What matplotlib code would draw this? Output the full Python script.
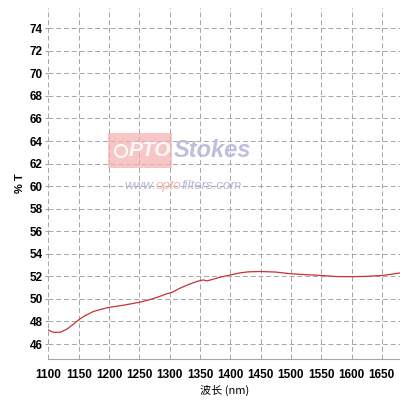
import matplotlib
matplotlib.use('Agg')
import matplotlib.pyplot as plt
from matplotlib.patches import Rectangle, Circle

# Transmission curve
wavelength = [1100, 1105, 1110, 1120, 1130, 1140, 1150, 1160, 1175, 1190, 1200, 1225,
              1250, 1265, 1280, 1295, 1305, 1315, 1330, 1345, 1355, 1362, 1370, 1385,
              1400, 1415, 1430, 1450, 1475, 1500, 1525, 1550, 1575, 1600, 1625, 1650,
              1665, 1680]
transmission = [47.25, 47.1, 47.03, 47.05, 47.3, 47.7, 48.15, 48.5, 48.9, 49.12, 49.25, 49.45,
                49.7, 49.9, 50.15, 50.45, 50.6, 50.9, 51.25, 51.55, 51.68, 51.6, 51.72, 51.95,
                52.12, 52.3, 52.4, 52.43, 52.38, 52.23, 52.15, 52.08, 51.98, 51.97, 52.0, 52.08,
                52.18, 52.3]

x_ticks = [1100, 1150, 1200, 1250, 1300, 1350, 1400, 1450, 1500, 1550, 1600, 1650]
y_ticks = [46, 48, 50, 52, 54, 56, 58, 60, 62, 64, 66, 68, 70, 72, 74]

tick_font = ['Liberation Sans Narrow', 'Liberation Sans', 'DejaVu Sans']

fig = plt.figure(figsize=(4, 4), dpi=100)
ax = fig.add_axes([0.121, 0.1025, 0.879, 0.8775])

ax.plot(wavelength, transmission, color='#c83232', linewidth=0.9)

ax.set_xlim(1100, 1680)
ax.set_ylim(44.67, 75.8)
ax.set_xticks(x_ticks)
ax.set_yticks(y_ticks)
ax.grid(True, color='#a6a6a6', linestyle=(0, (5, 3)), linewidth=0.7)

for side in ['top', 'right', 'left']:
    ax.spines[side].set_visible(False)
ax.spines['bottom'].set_color('#a6a6a6')
ax.spines['bottom'].set_linewidth(0.8)
ax.tick_params(axis='x', length=0, pad=7)
ax.tick_params(axis='y', length=2, color='#a6a6a6', pad=2)
for lab in ax.get_xticklabels() + ax.get_yticklabels():
    lab.set_family(tick_font)
    lab.set_fontweight('bold')
    lab.set_fontsize(8.5)

ax.set_ylabel('% T', family=tick_font, fontweight='bold', fontsize=8, labelpad=3)
ax.set_xlabel('波长 (nm)', family=['Noto Sans CJK SC', 'DejaVu Sans'], fontsize=8, labelpad=3)

# watermark
fig.patches.append(Rectangle((108 / 400, 1 - 168 / 400), 64 / 400, 35 / 400,
                             transform=fig.transFigure, facecolor='#f4b0b0',
                             edgecolor='none', alpha=0.7, zorder=0.5))
fig.patches.append(Circle((121 / 400, 1 - 151 / 400), 6 / 400, transform=fig.transFigure,
                          facecolor='none', edgecolor='white', linewidth=1.5, alpha=0.9))
fig.text(150 / 400, 1 - 151 / 400, 'PTO', color='white', fontsize=15, fontweight='bold',
         style='italic', ha='center', va='center', family='Liberation Sans', alpha=0.9)
fig.text(174 / 400, 1 - 151 / 400, 'Stokes', color='#b8b8da', fontsize=17, fontweight='bold',
         style='italic', ha='left', va='center', family='Liberation Sans', alpha=0.9)

fig.canvas.draw()
renderer = fig.canvas.get_renderer()
x = 124 / 400
for part, col in [('www.', '#b4b8d6'), ('opto', '#f2b0b0'), ('filters.com', '#b4b8d6')]:
    t = fig.text(x, 1 - 186 / 400, part, color=col, fontsize=9.5, style='italic',
                 ha='left', va='center', family='Liberation Sans')
    bb = t.get_window_extent(renderer)
    x += bb.width / fig.bbox.width

fig.savefig('out.png', dpi=100)
